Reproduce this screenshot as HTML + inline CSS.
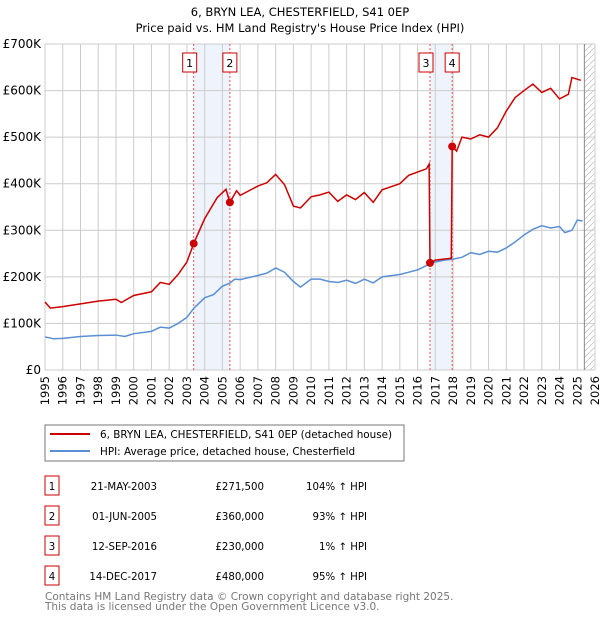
<!DOCTYPE html>
<html><head><meta charset="utf-8"><style>
body{margin:0;background:#fff;font-family:"DejaVu Sans","Liberation Sans",sans-serif;}
svg{display:block}
</style></head><body>
<svg id="c" width="600" height="620" viewBox="0 0 600 620">
<text x="300" y="16" text-anchor="middle" font-size="11.5">6, BRYN LEA, CHESTERFIELD, S41 0EP</text>
<text x="300" y="32" text-anchor="middle" font-size="11.5">Price paid vs. HM Land Registry's House Price Index (HPI)</text>
<g id="plot"></g>
<rect x="45" y="425" width="359" height="36" fill="#fff" stroke="#777"/>
<line x1="50" y1="434" x2="90" y2="434" stroke="#cc0000" stroke-width="2"/>
<text x="100" y="438" font-size="10.4">6, BRYN LEA, CHESTERFIELD, S41 0EP (detached house)</text>
<line x1="50" y1="451" x2="90" y2="451" stroke="#5b8fd4" stroke-width="2"/>
<text x="100" y="455" font-size="10.4">HPI: Average price, detached house, Chesterfield</text>
<g id="table" font-size="10.2"></g>
<text x="45" y="600" font-size="10.5" fill="#777">Contains HM Land Registry data © Crown copyright and database right 2025.</text>
<text x="45" y="610" font-size="10.5" fill="#777">This data is licensed under the Open Government Licence v3.0.</text>
</svg>
<script>
const hpiYears=[1995,1995.5,1996,1997,1998,1999,1999.5,2000,2001,2001.5,2002,2002.5,2003,2003.4,2004,2004.5,2005,2005.4,2005.7,2006,2007,2007.5,2008,2008.5,2009,2009.4,2010,2010.5,2011,2011.5,2012,2012.5,2013,2013.5,2014,2015,2015.5,2016,2016.7,2017,2017.5,2018,2018.5,2019,2019.5,2020,2020.5,2021,2021.5,2022,2022.5,2023,2023.5,2024,2024.3,2024.7,2025,2025.3];
const hpiValues=[71,67,68,72,74,75,72,78,83,92,90,100,113,133,155,162,180,186,195,194,203,208,219,210,190,178,195,195,190,188,193,186,195,187,200,205,210,215,228,232,236,238,242,252,248,255,253,262,275,290,302,310,305,308,295,300,322,320];
const redYears=[1995,1995.3,1996,1997,1998,1999,1999.3,2000,2001,2001.5,2002,2002.5,2003,2003.38,2004,2004.7,2005.2,2005.42,2005.8,2006,2007,2007.5,2008,2008.5,2009,2009.4,2010,2010.5,2011,2011.5,2012,2012.5,2013,2013.5,2014,2015,2015.5,2016.5,2016.65,2016.7,2017,2017.9,2017.95,2018.2,2018.5,2019,2019.5,2020,2020.5,2021,2021.5,2022,2022.5,2023,2023.5,2024,2024.5,2024.7,2025.2];
const redValues=[146,133,136,142,148,152,145,160,168,188,184,205,232,271.5,325,370,388,360,385,375,395,402,420,398,352,348,372,376,382,362,376,366,381,360,387,400,418,432,442,230,236,240,480,470,500,496,505,500,520,556,585,600,614,596,605,582,592,628,622];
const yTicks=[0,100,200,300,400,500,600,700];
const yTickLabels=["£0","£100K","£200K","£300K","£400K","£500K","£600K","£700K"];
const xTicks=[1995,1996,1997,1998,1999,2000,2001,2002,2003,2004,2005,2006,2007,2008,2009,2010,2011,2012,2013,2014,2015,2016,2017,2018,2019,2020,2021,2022,2023,2024,2025,2026];
const saleYears=[2003.38,2005.42,2016.7,2017.95];
const salePrices=[271.5,360,230,480];
const saleLabels=["1","2","3","4"];
const saleDates=["21-MAY-2003","01-JUN-2005","12-SEP-2016","14-DEC-2017"];
const salePriceText=["£271,500","£360,000","£230,000","£480,000"];
const salePct=["104% \u2191 HPI","93% \u2191 HPI","1% \u2191 HPI","95% \u2191 HPI"];
const X0=45,X1=595,Y0=370,Y1=44;
const xs=y=>X0+(y-1995)*(X1-X0)/31;
const ys=v=>Y0-v*(Y0-Y1)/700;
const NS="http://www.w3.org/2000/svg";
const plot=document.getElementById('plot');
function mk(t,a,p){const e=document.createElementNS(NS,t);for(const k in a)e.setAttribute(k,a[k]);(p||plot).appendChild(e);return e;}
for(let i=0;i<4;i+=2){const r=mk('rect',{x:xs(saleYears[i]),y:Y1,width:xs(saleYears[i+1])-xs(saleYears[i]),height:Y0-Y1,fill:'#eef3fc'});

}
const defs=mk('defs',{});
const pat=mk('pattern',{id:'h',width:6,height:6,patternUnits:'userSpaceOnUse'},defs);
mk('path',{d:'M0,6 L6,0',stroke:'#bbb','stroke-width':0.7},pat);
const hx=xs(2025.4);
const hr=mk('rect',{x:hx,y:Y1,width:X1-hx,height:Y0-Y1,fill:'url(#h)'});


xTicks.forEach(t=>{const l=mk('line',{x1:xs(t),x2:xs(t),y1:Y1,y2:Y0,stroke:'#ccc','stroke-width':1});


const tx=mk('text',{x:0,y:0,'font-size':11.5,'text-anchor':'end',transform:`translate(${xs(t)+4},${Y0+6}) rotate(-90)`});tx.textContent=t;

});
yTicks.forEach((t,i)=>{const l=mk('line',{x1:X0,x2:X1,y1:ys(t),y2:ys(t),stroke:'#ccc','stroke-width':1});


const tx=mk('text',{x:X0-4,y:ys(t)+4,'font-size':12,'text-anchor':'end'});tx.textContent=yTickLabels[i];

});
const dl=mk('line',{x1:hx,x2:hx,y1:Y1,y2:Y0,stroke:'#888','stroke-width':1});


saleYears.forEach((s,i)=>{const l=mk('line',{x1:xs(s),x2:xs(s),y1:Y1,y2:Y0,stroke:'#e55','stroke-width':1,'stroke-dasharray':'2,2'});


const b=mk('rect',{x:xs(s)+(i%2==0?-11:-7),y:53,width:14,height:19,fill:'#fff',stroke:'#c00'});


const t=mk('text',{x:xs(s)+(i%2==0?-4:0),y:67,'font-size':11,'text-anchor':'middle'});t.textContent=saleLabels[i];

});
const hp=mk('polyline',{points:hpiYears.map((y,i)=>xs(y)+','+ys(hpiValues[i])).join(' '),fill:'none',stroke:'#5b8fd4','stroke-width':1.5});


const rp=mk('polyline',{points:redYears.map((y,i)=>xs(y)+','+ys(redValues[i])).join(' '),fill:'none',stroke:'#cc0000','stroke-width':1.5});


saleYears.forEach((s,i)=>{const c=mk('circle',{cx:xs(s),cy:ys(salePrices[i]),r:4,fill:'#cc0000'});

});
const tb=document.getElementById('table');
saleLabels.forEach((l,i)=>{const y=486+i*30;
const r=mk('rect',{x:45,y:y-10,width:14,height:19,fill:'#fff',stroke:'#c00'},tb);


const cols=[[52,'middle',l],[157,'end',saleDates[i]],[264,'end',salePriceText[i]],[367,'end',salePct[i]]];
cols.forEach(c=>{const t=mk('text',{x:c[0],y:y+4,'text-anchor':c[1]},tb);t.textContent=c[2];

});});
</script>
</body></html>
